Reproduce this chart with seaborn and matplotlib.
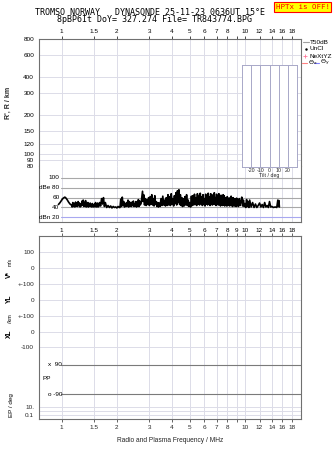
import matplotlib
matplotlib.use("Agg")
import matplotlib.pyplot as plt
import matplotlib.transforms as mtrans
from matplotlib.lines import Line2D
import seaborn as sns
import pandas as pd

# ---------------- data ----------------
title_line1 = "TROMSO NORWAY   DYNASONDE 25-11-23 0636UT 15°E"
title_line2 = "8pBP6It DoY= 327.274 File= TR843774.BPG"
status_text = "HPTx is OFF!"
xlabel_text = "Radio and Plasma Frequency / MHz"

freq_ticks = [1, 1.5, 2, 3, 4, 5, 6, 7, 8, 9, 10, 12, 14, 16, 18]
freq_labels_top = ["1", "1.5", "2", "3", "4", "5", "6", "7", "8", "", "10", "12", "14", "16", "18"]
freq_labels_db = ["1", "1.5", "2", "3", "4", "5", "6", "7", "8", "9", "10", "12", "14", "16", "18"]
freq_labels_bottom = freq_labels_top

range_ticks = [80, 90, 100, 120, 150, 200, 300, 400, 600, 800]
range_labels = ["80", "90", "100", "120", "150", "200", "300", "400", "600", "800"]

db_ticks = [20, 40, 60, 80, 100]
db_labels = ["dBn 20", "40", "60", "dBe 80", "100"]

tilt_ticks = [-20, -10, 0, 10, 20]
tilt_labels = ["-20", "-10", "0", "10", "20"]

lower_labels = ["100", "0", "+-100", "0", "+-100", "0", "-100", "10.", "0.1"]
pp_labels = ["x  90", "o -90"]

legend_labels = ["T50dB", "UnCl", "NeXtYZ"]

noise_freq = [
    0.96, 0.98, 1.00, 1.02, 1.04, 1.05, 1.07, 1.09, 1.11, 1.13,
    1.14, 1.15, 1.16, 1.17, 1.18, 1.19, 1.20, 1.21, 1.22, 1.23, 1.24, 1.25, 1.26, 1.27, 1.28,
    1.29, 1.30, 1.31, 1.32, 1.33, 1.34, 1.35, 1.36, 1.37, 1.38, 1.39, 1.40, 1.41, 1.42, 1.43,
    1.44, 1.45, 1.46, 1.47, 1.48, 1.49, 1.50, 1.51, 1.52, 1.53, 1.54, 1.55, 1.56, 1.57, 1.58,
    1.59, 1.60, 1.61,
    1.63, 1.65, 1.67, 1.69, 1.71, 1.73, 1.76, 1.79, 1.82, 1.85, 1.88, 1.91, 1.94, 1.97, 2.00, 2.03, 2.06,
    2.08, 2.10, 2.12, 2.14, 2.16, 2.18, 2.20, 2.22, 2.24, 2.26, 2.28, 2.30, 2.32, 2.34, 2.36, 2.38,
    2.40, 2.42, 2.44, 2.46, 2.48, 2.50, 2.52, 2.54, 2.56, 2.58, 2.60, 2.62, 2.64, 2.66, 2.68,
    2.71, 2.74, 2.76, 2.78, 2.80, 2.83, 2.86, 2.89, 2.92, 2.95, 2.98,
    3.01, 3.04, 3.07, 3.10, 3.13, 3.16, 3.19, 3.22, 3.25, 3.28, 3.31, 3.34, 3.37,
    3.40, 3.44, 3.48, 3.52, 3.56, 3.60, 3.64, 3.68, 3.72, 3.76, 3.80,
    3.84, 3.88, 3.92, 3.96, 4.00, 4.04, 4.08, 4.12, 4.16, 4.20, 4.24, 4.28, 4.32, 4.36, 4.40, 4.44,
    4.48, 4.52, 4.56,
    4.60, 4.65, 4.70, 4.75, 4.80, 4.85, 4.90, 4.95, 5.00, 5.05, 5.10,
    5.15, 5.20, 5.25, 5.30, 5.35, 5.40, 5.45, 5.50, 5.55, 5.60, 5.65, 5.70, 5.75, 5.80, 5.85, 5.90,
    5.95, 6.00, 6.05, 6.10, 6.15, 6.20, 6.25, 6.30, 6.35, 6.40, 6.45, 6.50, 6.55, 6.60, 6.65, 6.70,
    6.75, 6.80, 6.85, 6.90, 6.95, 7.00, 7.05, 7.10, 7.15, 7.20, 7.25, 7.30, 7.35, 7.40, 7.45, 7.50,
    7.55, 7.60, 7.65, 7.70, 7.75, 7.80, 7.85, 7.90, 7.95, 8.00, 8.05, 8.10, 8.15, 8.20, 8.25, 8.30,
    8.35, 8.40, 8.45, 8.50, 8.55, 8.60, 8.65, 8.70, 8.75, 8.80, 8.85, 8.90, 8.95, 9.00, 9.05, 9.10,
    9.20, 9.30, 9.40, 9.50, 9.60, 9.70, 9.80, 9.90,
    10.0, 10.1, 10.2, 10.3, 10.4, 10.5, 10.6, 10.8, 11.0, 11.2, 11.4, 11.6, 11.8, 12.0, 12.2, 12.4,
    12.6, 12.8, 13.0, 13.2, 13.4, 13.6, 13.8, 14.0, 14.3, 14.6, 14.9, 15.1, 15.2, 15.3, 15.4,
]
noise_db = [
    46, 50, 55, 59, 61, 60, 56, 51, 47, 45,
    41, 50, 42, 48, 41, 51, 43, 49, 42, 52, 44, 49, 41, 47, 43,
    53, 45, 55, 42, 50, 43, 54, 41, 48, 42, 50, 41, 47, 43, 49,
    42, 46, 41, 48, 42, 45, 41, 47, 43, 50, 41, 46, 42, 49, 41,
    47, 43, 50,
    43, 58, 47, 60, 42, 50, 40, 44, 40, 43, 39, 42, 40, 41, 39, 42, 40,
    40, 57, 42, 61, 45, 52, 41, 48, 42, 50, 43, 55, 41, 52, 43, 49,
    42, 51, 44, 53, 42, 48, 43, 52, 41, 50, 43, 56, 42, 53, 45,
    48, 64, 73, 52, 66, 45, 58, 44, 56, 46, 60,
    44, 62, 47, 66, 45, 58, 43, 64, 46, 52, 42, 50, 41,
    49, 42, 58, 44, 63, 45, 55, 43, 60, 44, 66,
    45, 62, 44, 68, 47, 58, 43, 64, 48, 70, 45, 74, 50, 76, 46, 66,
    44, 60, 42,
    58, 43, 62, 45, 66, 44, 55, 42, 50, 41, 63,
    44, 64, 45, 67, 46, 60, 44, 68, 47, 63, 45, 69, 48, 62, 44, 66,
    46, 58, 43, 67, 47, 64, 45, 69, 48, 61, 44, 68, 46, 63, 45, 66,
    47, 70, 46, 60, 44, 67, 47, 62, 45, 68, 46, 59, 43, 65, 46, 60,
    44, 66, 45, 64, 43, 60, 46, 58, 43, 62, 44, 59, 46, 57, 43, 60,
    45, 63, 44, 55, 42, 60, 45, 56, 43, 58, 44, 54, 42, 59, 44, 56,
    42, 58, 44, 52, 61, 43, 55, 42,
    48, 40, 56, 42, 52, 40, 55, 41, 50, 40, 47, 40, 44, 49, 41, 46,
    40, 50, 41, 44, 40, 52, 41, 42, 40, 41, 40, 55, 42, 54, 41,
]

# ---------------- style ----------------
sns.set_style("white")
plt.rcParams["font.family"] = ["Liberation Sans", "DejaVu Sans"]
plt.rcParams["axes.linewidth"] = 0.8

W, H = 335, 451
fig = plt.figure(figsize=(W / 100, H / 100), dpi=100)


def box(x0, y0, x1, y1):
    return [x0 / W, 1 - y1 / H, (x1 - x0) / W, (y1 - y0) / H]


GRID = "#dcdce8"
SPINE = "#707070"
TXT = "black"
FS = 4.6
XLIM = (0.752, 20.2)

# ---------------- top: range panel ----------------
ax_top = fig.add_axes(box(39, 39, 301, 166))
ax_top.set_xscale("log")
ax_top.set_yscale("log")
ax_top.set_xlim(*XLIM)
ax_top.set_ylim(80, 800)
ax_top.xaxis.set_minor_locator(matplotlib.ticker.NullLocator())
ax_top.yaxis.set_minor_locator(matplotlib.ticker.NullLocator())
ax_top.set_yticks(range_ticks)
ax_top.set_yticklabels(range_labels, fontsize=FS)
ax_top.set_xticks(freq_ticks)
ax_top.set_xticklabels(freq_labels_top, fontsize=FS)
ax_top.xaxis.tick_top()
for f in freq_ticks:
    ax_top.axvline(f, color=GRID, lw=0.7, zorder=0)
for r in range_ticks:
    ax_top.axhline(r, color=GRID, lw=0.7, zorder=0)
ax_top.tick_params(axis="both", length=2.5, width=0.5, pad=1, colors=TXT)
for s in ["top", "left", "right"]:
    ax_top.spines[s].set_color(SPINE)
ax_top.spines["bottom"].set_visible(False)
ax_top.set_ylabel("R', R / km", fontsize=5, fontweight="bold", labelpad=8)

# ---------------- dB panel ----------------
ax_db = fig.add_axes(box(39, 166, 301, 222))
ax_db.set_xscale("log")
ax_db.set_xlim(*XLIM)
ax_db.set_ylim(10.4, 124.4)
ax_db.xaxis.set_minor_locator(matplotlib.ticker.NullLocator())
ax_db.set_xticks(freq_ticks)
ax_db.set_xticklabels(freq_labels_db, fontsize=FS)
ax_db.set_yticks([])
for f in freq_ticks:
    ax_db.axvline(f, color=GRID, lw=0.7, zorder=0)
gx0 = (61 - 39) / 262
for v, lab in zip(db_ticks, db_labels):
    col = "#a8a8f0" if v == 20 else "#a8a8a8"
    ax_db.axhline(v, xmin=gx0, xmax=1, color=col, lw=0.8, zorder=1)
    ax_db.text(0.078, v, lab, transform=mtrans.blended_transform_factory(ax_db.transAxes, ax_db.transData),
               ha="right", va="center", fontsize=FS, color=TXT)
df_noise = pd.DataFrame({"freq": noise_freq, "db": noise_db})
sns.lineplot(data=df_noise, x="freq", y="db", ax=ax_db, color="black", lw=1.2,
             sort=False, estimator=None, zorder=3)
ax_db.set_xlabel("")
ax_db.set_ylabel("")
ax_db.tick_params(axis="x", length=2.5, width=0.5, pad=2, colors=TXT)
for s in ["bottom", "left", "right"]:
    ax_db.spines[s].set_color(SPINE)
ax_db.spines["top"].set_visible(False)

# ---------------- tilt inset ----------------
ax_tilt = fig.add_axes(box(242, 65, 297, 167))
ax_tilt.set_xlim(-30, 30)
ax_tilt.set_ylim(0, 1)
ax_tilt.set_facecolor("white")
for t in tilt_ticks:
    ax_tilt.axvline(t, color="#a8a8c8", lw=0.7)
ax_tilt.set_yticks([])
ax_tilt.set_xticks(tilt_ticks)
ax_tilt.set_xticklabels(tilt_labels, fontsize=3.8)
ax_tilt.tick_params(axis="x", length=0, pad=1)
ax_tilt.set_xlabel("Tilt / deg", fontsize=3.8, labelpad=0)
for s in ax_tilt.spines.values():
    s.set_color("#a8a8c8")
    s.set_linewidth(0.7)

# ---------------- lower panel ----------------
ax_bot = fig.add_axes(box(39, 236, 301, 419))
ax_bot.set_xscale("log")
ax_bot.set_xlim(*XLIM)
ax_bot.set_ylim(183, 0)
ax_bot.xaxis.set_minor_locator(matplotlib.ticker.NullLocator())
ax_bot.set_xticks(freq_ticks)
ax_bot.set_xticklabels(freq_labels_bottom, fontsize=FS)
ax_bot.tick_params(axis="x", which="both", top=True, bottom=True, direction="out", length=2.5, width=0.5, pad=2)
row_pos = [16, 32, 48, 64, 80, 96, 111, 171, 179]
ax_bot.set_yticks(row_pos)
ax_bot.set_yticklabels(lower_labels, fontsize=FS)
ax_bot.tick_params(axis="y", length=2.5, width=0.5, pad=1)
for f in freq_ticks:
    ax_bot.axvline(f, color=GRID, lw=0.7, zorder=0)
for y in row_pos + [175]:
    ax_bot.axhline(y, color=GRID, lw=0.7, zorder=0)
for y, lab in zip([129, 158], pp_labels):
    ax_bot.axhline(y, xmin=gx0, xmax=1, color="#7a7a7a", lw=0.8, zorder=1)
    ax_bot.text(0.088, y, lab, transform=mtrans.blended_transform_factory(ax_bot.transAxes, ax_bot.transData),
                ha="right", va="center", fontsize=FS, color=TXT)
ax_bot.text(0.015, 143, "PP", transform=mtrans.blended_transform_factory(ax_bot.transAxes, ax_bot.transData),
            ha="left", va="center", fontsize=FS, color=TXT)
for s in ax_bot.spines.values():
    s.set_color(SPINE)
ax_bot.set_xlabel(xlabel_text, fontsize=4.8, labelpad=5)

# rotated side labels
side = dict(rotation=90, ha="center", va="center", fontsize=4.8, fontweight="bold", color=TXT)
fig.text(9 / W, 1 - 274 / H, "V*", **side)
fig.text(10 / W, 1 - 262 / H, "m/s", rotation=90, ha="center", va="center", fontsize=3.6, color=TXT)
fig.text(9 / W, 1 - 299 / H, "YL", **side)
fig.text(10 / W, 1 - 319 / H, "/km", rotation=90, ha="center", va="center", fontsize=4.0, color=TXT)
fig.text(9 / W, 1 - 334 / H, "XL", **side)
fig.text(11 / W, 1 - 405 / H, "EP / deg", rotation=90, ha="center", va="center", fontsize=4.5, color=TXT)

# ---------------- titles ----------------
mono = ["DejaVu Sans Mono"]
fig.text(35 / W, 1 - 12.5 / H, title_line1, family=mono, fontsize=6.0, ha="left", va="center", color=TXT)
fig.text(57 / W, 1 - 20 / H, title_line2, family=mono, fontsize=6.0, ha="left", va="center", color=TXT)
fig.text(302.5 / W, 1 - 7 / H, status_text, family=mono, fontsize=5.4, ha="center", va="center",
         color="#ff0000", bbox=dict(boxstyle="square,pad=0.25", facecolor="#ffff00", edgecolor="#ff0000", lw=0.8))

# ---------------- legend ----------------
ly = [42, 49, 56]
fig.add_artist(Line2D([303 / W, 309 / W], [1 - ly[0] / H] * 2, color="#a0a0a0", lw=0.8))
fig.add_artist(Line2D([306 / W], [1 - ly[1] / H], marker=".", ms=1.5, color="black", lw=0))
fig.add_artist(Line2D([305 / W], [1 - ly[2] / H], marker="+", ms=3, mew=0.6, color="#ff7799", lw=0))
for y, lab in zip(ly, legend_labels):
    fig.text(310 / W, 1 - y / H, lab, fontsize=4.6, ha="left", va="center", color=TXT)
y4 = 63
fig.add_artist(Line2D([302 / W, 307 / W], [1 - y4 / H] * 2, color="#ff8080", lw=0.8))
fig.text(307.5 / W, 1 - y4 / H, r"$\Theta_\mathrm{x}$", fontsize=4.6, ha="left", va="center", color=TXT)
fig.add_artist(Line2D([314 / W, 319 / W], [1 - y4 / H] * 2, color="#8080ff", lw=0.8))
fig.text(319.5 / W, 1 - y4 / H, r"$\Theta_\mathrm{y}$", fontsize=4.6, ha="left", va="center", color=TXT)

fig.savefig("out.png", dpi=100)
